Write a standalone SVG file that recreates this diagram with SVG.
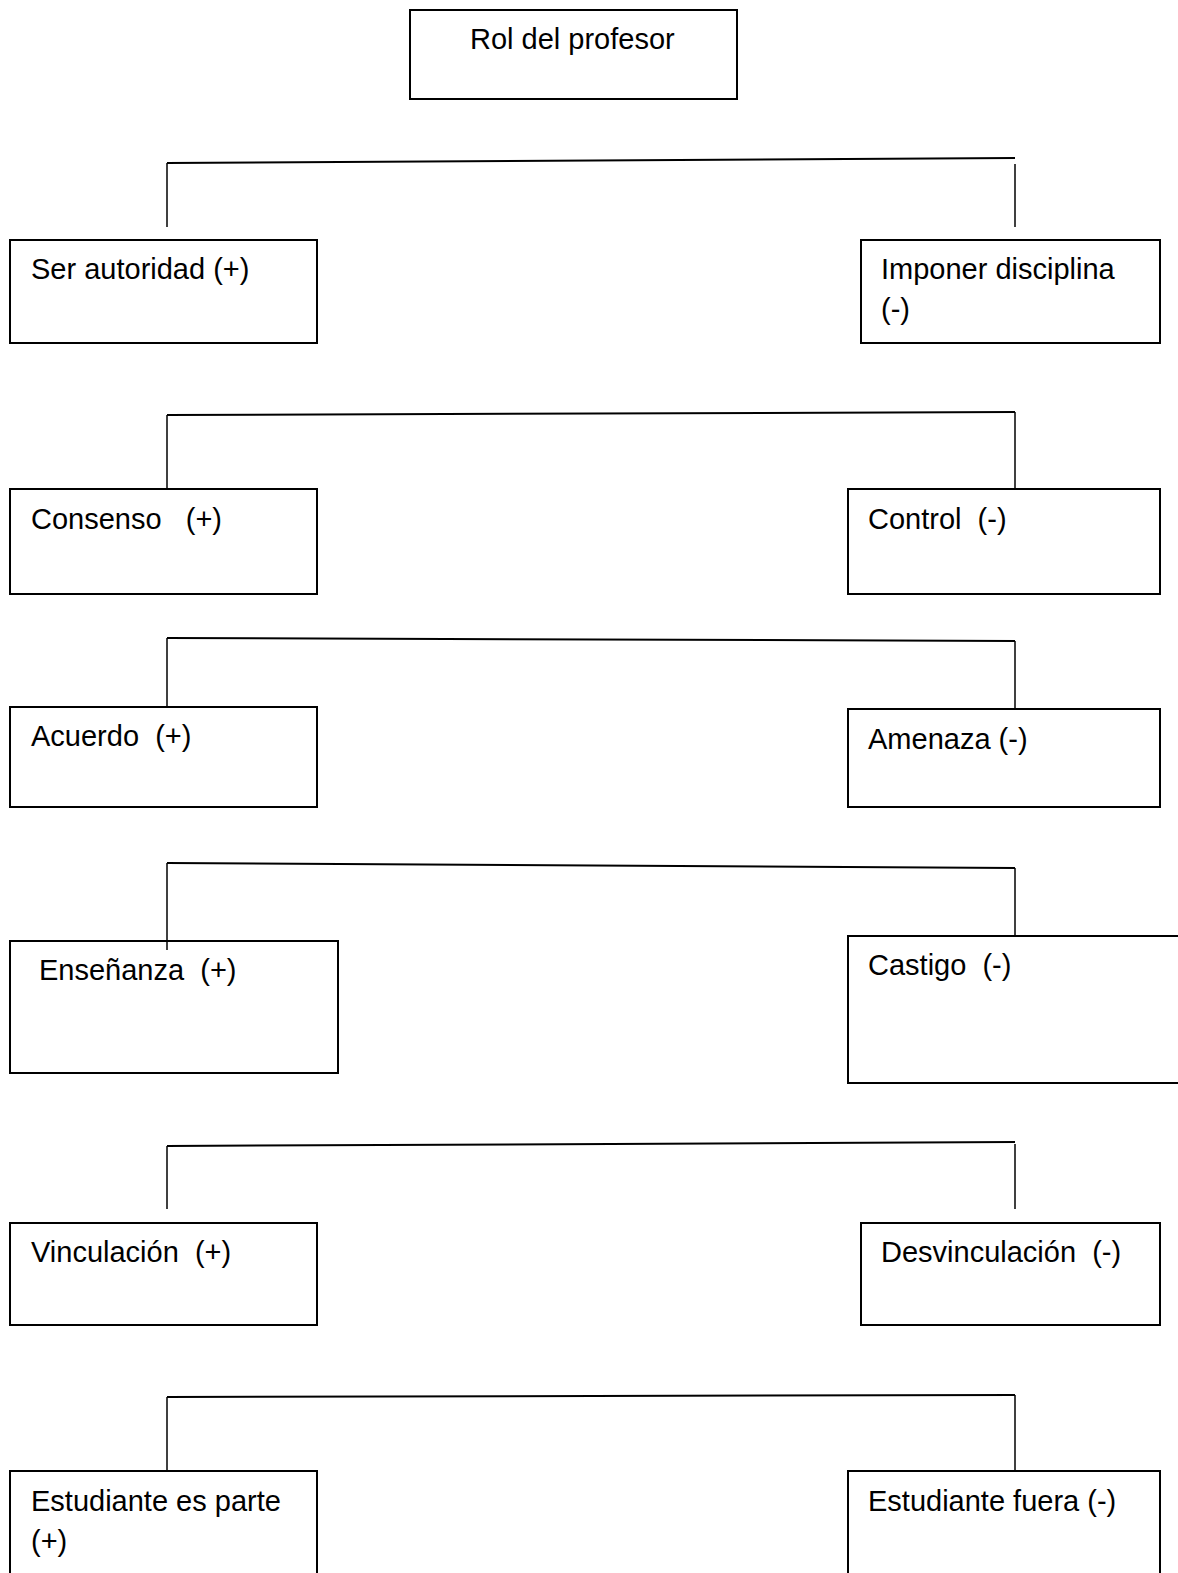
<svg xmlns="http://www.w3.org/2000/svg" width="1178" height="1573" viewBox="0 0 1178 1573">
<style>
.box{fill:#fff;stroke:#000;stroke-width:2}
.t{font-family:"Liberation Sans",Arial,sans-serif;font-size:29px;fill:#000;white-space:pre}
.h{fill:none;stroke:#000;stroke-width:2}
.v{fill:none;stroke:#000;stroke-width:1.5}
</style>
<rect width="1178" height="1573" fill="#fff"/>
<g id="connectors">
<path class="h" d="M167 163 L1015 158"/>
<path class="v" d="M167 163 V227"/>
<path class="v" d="M1015 164 V227"/>
<path class="h" d="M167 415 L1015 412"/>
<path class="v" d="M167 415 V489"/>
<path class="v" d="M1015 412 V489"/>
<path class="h" d="M167 638 L1015 641"/>
<path class="v" d="M167 638 V707"/>
<path class="v" d="M1015 641 V709"/>
<path class="h" d="M167 863 L1015 868"/>
<path class="v" d="M1015 868 V936"/>
<path class="h" d="M167 1146 L1015 1142"/>
<path class="v" d="M167 1146 V1209"/>
<path class="v" d="M1015 1144 V1209"/>
<path class="h" d="M167 1397 L1015 1395"/>
<path class="v" d="M167 1397 V1471"/>
<path class="v" d="M1015 1395 V1471"/>
</g>
<g id="n-rol"><rect class="box" x="410" y="10" width="327" height="89"/><text class="t" x="470" y="49">Rol del profesor</text></g>
<g id="n-autoridad"><rect class="box" x="10" y="240" width="307" height="103"/><text class="t" x="31" y="279">Ser autoridad (+)</text></g>
<g id="n-disciplina"><rect class="box" x="861" y="240" width="299" height="103"/><text class="t" x="881" y="279">Imponer disciplina</text><text class="t" x="881" y="319">(-)</text></g>
<g id="n-consenso"><rect class="box" x="10" y="489" width="307" height="105"/><text class="t" x="31" y="529">Consenso   (+)</text></g>
<g id="n-control"><rect class="box" x="848" y="489" width="312" height="105"/><text class="t" x="868" y="529">Control  (-)</text></g>
<g id="n-acuerdo"><rect class="box" x="10" y="707" width="307" height="100"/><text class="t" x="31" y="746">Acuerdo  (+)</text></g>
<g id="n-amenaza"><rect class="box" x="848" y="709" width="312" height="98"/><text class="t" x="868" y="749">Amenaza (-)</text></g>
<g id="n-ensenanza"><rect class="box" x="10" y="941" width="328" height="132"/><text class="t" x="39" y="980">Enseñanza  (+)</text></g>
<g id="n-castigo"><rect class="box" x="848" y="936" width="340" height="147"/><text class="t" x="868" y="975">Castigo  (-)</text></g>
<path class="v" d="M167 863 V950"/>
<g id="n-vinculacion"><rect class="box" x="10" y="1223" width="307" height="102"/><text class="t" x="31" y="1262">Vinculación  (+)</text></g>
<g id="n-desvinculacion"><rect class="box" x="861" y="1223" width="299" height="102"/><text class="t" x="881" y="1262">Desvinculación  (-)</text></g>
<g id="n-parte"><rect class="box" x="10" y="1471" width="307" height="120"/><text class="t" x="31" y="1511">Estudiante es parte</text><text class="t" x="31" y="1551">(+)</text></g>
<g id="n-fuera"><rect class="box" x="848" y="1471" width="312" height="120"/><text class="t" x="868" y="1511">Estudiante fuera (-)</text></g>
</svg>
